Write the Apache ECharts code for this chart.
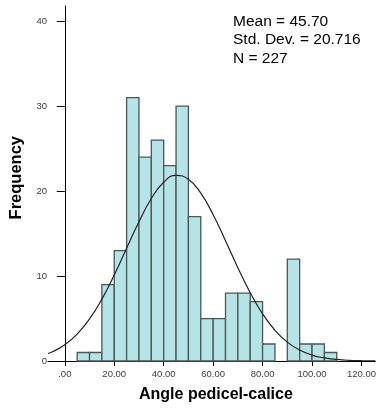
<!DOCTYPE html>
<html>
<head>
<meta charset="utf-8">
<script src="https://cdn.jsdelivr.net/npm/echarts@6/dist/echarts.min.js"></script>
<style>
  html, body { margin: 0; padding: 0; background: #fff; }
  #main { width: 379px; height: 409px; }
</style>
</head>
<body>
<div id="main"></div>
<script>
// histogram bins (width 5) and counts
var binStarts = [5, 10, 15, 20, 25, 30, 35, 40, 45, 50, 55, 60, 65, 70, 75, 80, 85, 90, 95, 100, 105];
var counts = [1, 1, 9, 13, 31, 24, 26, 23, 30, 17, 5, 5, 8, 8, 7, 2, 0, 12, 2, 2, 1];
var binWidth = 5;

// fitted normal curve
var curveX = [-6.8, -5, 0, 5, 10, 15, 20, 25, 30, 35, 40, 45, 50, 55, 60, 65, 70, 75, 80, 85, 90, 95, 100, 105, 110, 115, 120, 125.6];
var curveY = [0.88, 1.09, 1.92, 3.17, 4.95, 7.29, 10.12, 13.27, 16.4, 19.13, 21.05, 21.85, 21.39, 19.76, 17.23, 14.16, 10.99, 8.04, 5.55, 3.62, 2.22, 1.29, 0.7, 0.36, 0.18, 0.08, 0.04, 0.01];

var xTicks = [0, 20, 40, 60, 80, 100, 120];
var yTicks = [0, 10, 20, 30, 40];
var statLines = ['Mean = 45.70', 'Std. Dev. = 20.716', 'N = 227'];

var myChart = echarts.init(document.getElementById('main'));

var bars = binStarts.map(function(s, i) { return [s, s + binWidth, counts[i]]; });
var curve = curveX.map(function(x, i) { return [x, curveY[i]]; });

var labelStyle = { fontFamily: 'Liberation Sans', fontSize: 9.5, color: '#404040' };

myChart.setOption({
	backgroundColor: '#fff',
	animation: false,
	grid: { left: 48, right: 0, top: 6, bottom: 48 },
	xAxis: {
		type: 'value',
		min: -6.8,
		max: 125.6,
		splitLine: { show: false },
		axisLine: { lineStyle: { color: '#000', width: 1 } },
		axisTick: { show: true, length: 5, customValues: xTicks, lineStyle: { color: '#000' } },
		axisLabel: Object.assign({
			customValues: xTicks,
			margin: 8,
			formatter: function(v) { return v === 0 ? '.00' : v.toFixed(2); }
		}, labelStyle)
	},
	yAxis: {
		type: 'value',
		min: 0,
		max: 41.8,
		splitLine: { show: false },
		axisLine: { show: true, lineStyle: { color: '#000', width: 1 } },
		axisTick: { show: true, length: 8, customValues: yTicks, lineStyle: { color: '#000' } },
		axisLabel: Object.assign({ customValues: yTicks, margin: 1 }, labelStyle)
	},
	graphic: [{
		type: 'text',
		left: 8,
		top: 136,
		rotation: Math.PI / 2,
		style: {
			text: 'Frequency',
			font: 'bold 16.5px "Liberation Sans"',
			fill: '#000'
		}
	}, {
		type: 'text',
		left: 139,
		top: 387,
		style: {
			text: 'Angle pedicel-calice',
			font: 'bold 16px "Liberation Sans"',
			fill: '#000'
		}
	}, {
		type: 'text',
		left: 233,
		top: 12,
		style: {
			text: statLines.join('\n'),
			font: '15.5px "Liberation Sans"',
			lineHeight: 18.5,
			fill: '#000'
		}
	}],
	series: [{
		type: 'custom',
		data: bars,
		renderItem: function(params, api) {
			var p0 = api.coord([api.value(0), api.value(2)]);
			var p1 = api.coord([api.value(1), 0]);
			if (api.value(2) === 0) return null;
			return {
				type: 'rect',
				shape: { x: p0[0], y: p0[1], width: p1[0] - p0[0], height: p1[1] - p0[1] },
				style: { fill: '#b5e4e6', stroke: '#4d5555', lineWidth: 1.3 }
			};
		},
		encode: { x: [0, 1], y: 2 },
		z: 2
	}, {
		type: 'line',
		data: curve,
		smooth: true,
		showSymbol: false,
		lineStyle: { color: '#222', width: 1.2 },
		z: 3
	}]
});
</script>
</body>
</html>
